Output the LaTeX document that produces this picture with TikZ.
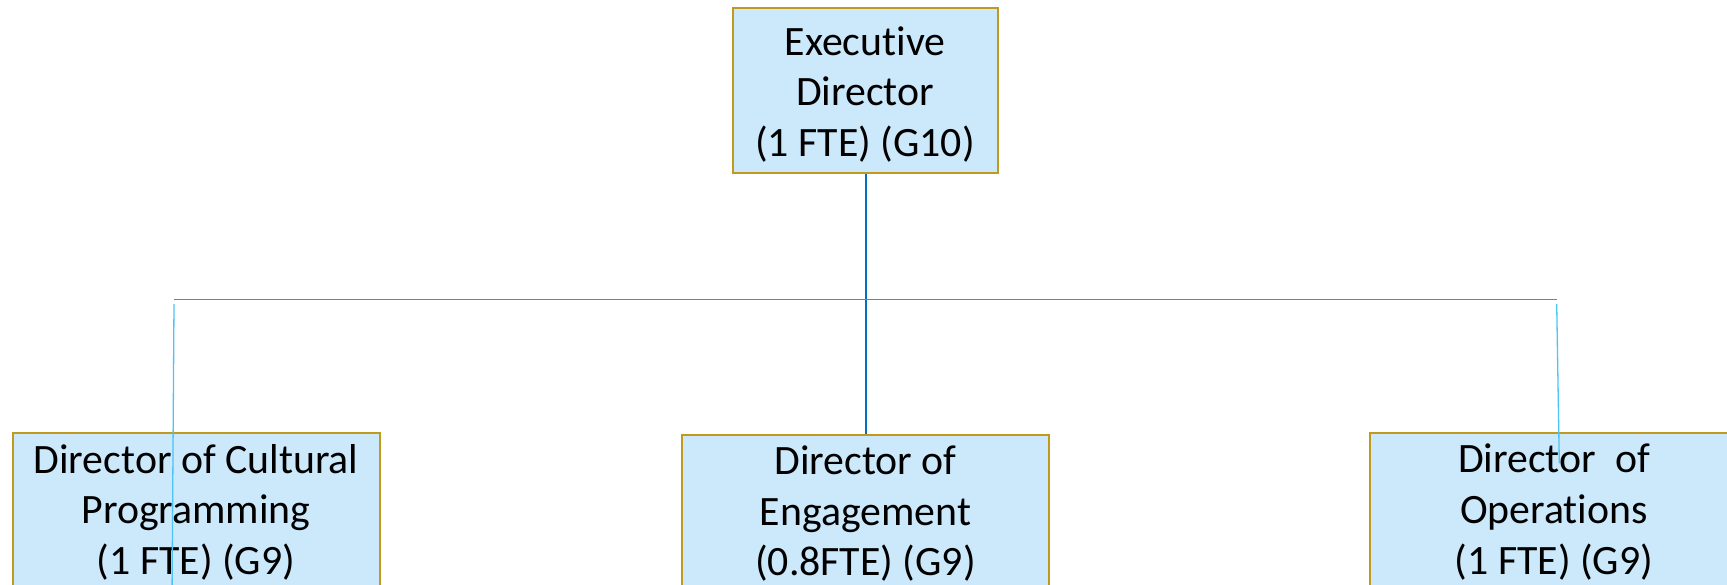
\documentclass[tikz,border=0pt]{standalone}
\usepackage{fontspec}
\setmainfont{Carlito}[Ligatures=NoCommon]
\usetikzlibrary{calc}
\definecolor{boxfill}{HTML}{CCE9FC}
\definecolor{boxedge}{HTML}{BF9A1F}
\definecolor{mainline}{HTML}{0070C0}
\definecolor{hline}{HTML}{1BA1E2}
\definecolor{vline}{HTML}{4CC4F5}
\begin{document}
\begin{tikzpicture}[x=1pt,y=-1pt,
  orgbox/.style={draw=boxedge, fill=boxfill, line width=2.2pt, inner sep=0pt, minimum width=367pt, minimum height=300pt},
  topbox/.style={orgbox, minimum width=265pt, minimum height=164.4pt},
  txt/.style={font=\fontsize{41.8}{50.8}\selectfont, align=center, anchor=base, inner sep=0pt},
  conn/.style={line width=1pt}]
\useasboundingbox (0,0) rectangle (1727,584);
\clip (0,0) rectangle (1727,584);
% boxes
\node[topbox] (ed) at (865.5,90.5) {};
\node[orgbox] (cp) at (196.3,583.3) {};
\node[orgbox] (en) at (865.3,585) {};
\node[orgbox] (op) at (1553.5,583.3) {};
% texts (anchor at baseline of last line)
\node[txt] (edt) at (865,156.6) {Executive\\Director\\(1 FTE) (G10)};
\node[txt] (cpt) at (196,574.6) {Director of Cultural\\Programming\\(1 FTE) (G9)};
\node[txt] (ent) at (865.5,575.9) {Director of\\Engagement\\(0.8FTE) (G9)};
\node[txt] (opt) at (1554,574.3) {Director~ of\\Operations\\(1 FTE) (G9)};
% connector coordinates
\coordinate (hl) at (174,299.3);
\coordinate (hr) at (1556.7,299.3);
\coordinate (lt) at (174,304);
\coordinate (lb) at (172,600);
\coordinate (rt) at (1556.7,304);
\coordinate (rb) at (1559.3,463.3);
% connectors
\draw[mainline, line width=2pt] (ed.south) -- (ed.south |- en.north);
\draw[hline, conn] (hl) -- (hr);
\draw[vline, line width=1.3pt] (lt) -- (lb);
\draw[vline, line width=1.3pt] (rt) -- (rb);
\end{tikzpicture}
\end{document}
